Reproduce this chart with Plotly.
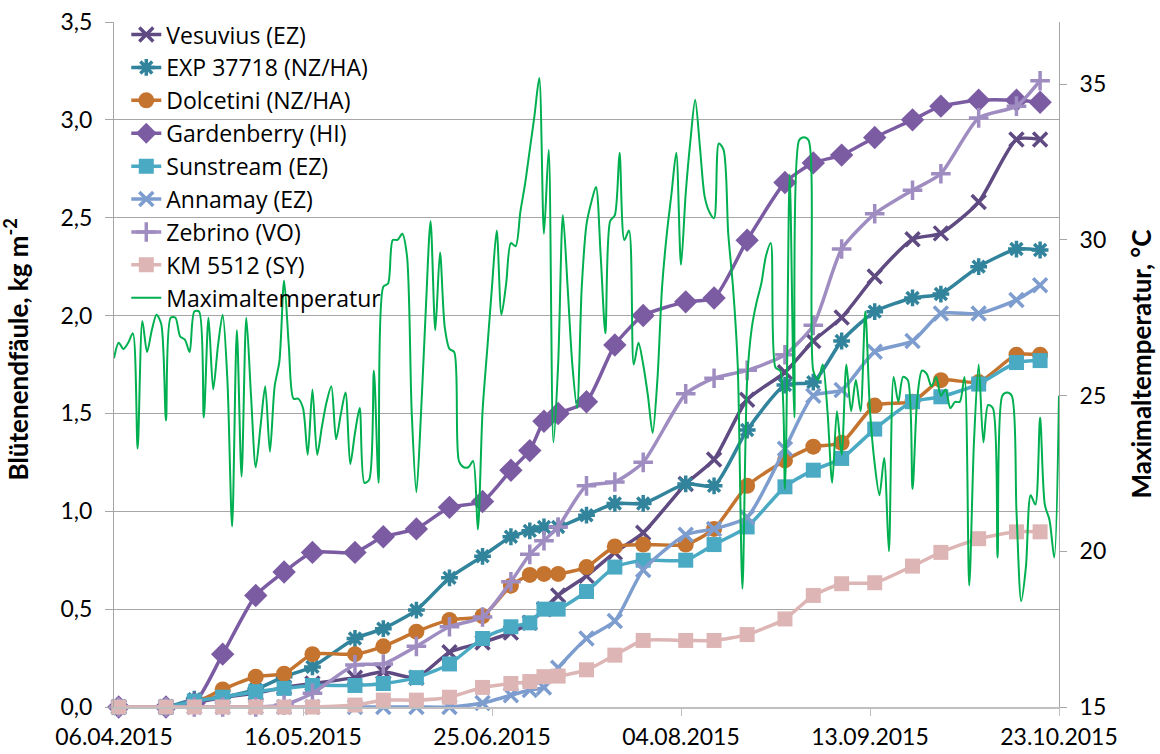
import pandas as pd
import plotly.graph_objects as go

# ---------------- data ----------------
harvest_dates = ["2015-04-07", "2015-04-17", "2015-04-23", "2015-04-29", "2015-05-06",
                 "2015-05-12", "2015-05-18", "2015-05-27", "2015-06-02", "2015-06-09",
                 "2015-06-16", "2015-06-23", "2015-06-29", "2015-07-03", "2015-07-06",
                 "2015-07-09", "2015-07-15", "2015-07-21", "2015-07-27", "2015-08-05",
                 "2015-08-11", "2015-08-18", "2015-08-26", "2015-09-01", "2015-09-07",
                 "2015-09-14", "2015-09-22", "2015-09-28", "2015-10-06", "2015-10-14",
                 "2015-10-19"]

vesuvius = [0, 0, 0.02, 0.05, 0.07, 0.10, 0.12, 0.15, 0.18, 0.15, 0.28, 0.33, 0.38, 0.43,
            0.50, 0.57, 0.67, 0.79, 0.89, 1.14, 1.265, 1.57, 1.71, 1.87, 1.99, 2.20, 2.39,
            2.42, 2.58, 2.90, 2.90]
exp37718 = [0, 0, 0.04, 0.05, 0.09, 0.155, 0.205, 0.35, 0.40, 0.495, 0.66, 0.77, 0.87, 0.90,
            0.92, 0.92, 0.98, 1.04, 1.04, 1.14, 1.13, 1.415, 1.645, 1.66, 1.87, 2.02, 2.09,
            2.11, 2.25, 2.34, 2.335]
dolcetini = [0, 0, 0.02, 0.09, 0.155, 0.17, 0.27, 0.27, 0.31, 0.385, 0.445, 0.465, 0.62,
             0.675, 0.68, 0.68, 0.715, 0.82, 0.83, 0.83, 0.91, 1.13, 1.26, 1.33, 1.35, 1.54,
             1.56, 1.67, 1.66, 1.80, 1.80]
gardenberry = [0, 0, 0.02, 0.27, 0.57, 0.69, 0.79, 0.79, 0.87, 0.91, 1.02, 1.05, 1.21, 1.31,
               1.46, 1.50, 1.56, 1.85, 2.00, 2.07, 2.09, 2.385, 2.68, 2.78, 2.82, 2.91, 3.00,
               3.07, 3.10, 3.10, 3.09]
sunstream = [0, 0, 0.03, 0.05, 0.078, 0.095, 0.11, 0.11, 0.12, 0.15, 0.22, 0.35, 0.41, 0.43,
             0.50, 0.50, 0.59, 0.715, 0.75, 0.75, 0.83, 0.92, 1.125, 1.21, 1.27, 1.42, 1.56,
             1.585, 1.65, 1.76, 1.77]
annamay = [0, 0, 0, 0, 0, 0, 0, 0, 0, 0, 0, 0.02, 0.06, 0.087, 0.10, 0.20, 0.35, 0.44, 0.70,
           0.88, 0.91, 0.97, 1.32, 1.59, 1.62, 1.815, 1.87, 2.01, 2.01, 2.08, 2.155]
zebrino = [0, 0, 0, 0, 0, 0.01, 0.07, 0.215, 0.22, 0.31, 0.41, 0.46, 0.64, 0.78, 0.85, 0.92,
           1.13, 1.15, 1.25, 1.60, 1.68, 1.72, 1.80, 1.95, 2.34, 2.52, 2.64, 2.725, 3.01,
           3.07, 3.20]
km5512 = [0, 0, 0, 0, 0, 0, 0, 0.01, 0.035, 0.035, 0.05, 0.10, 0.12, 0.13, 0.155, 0.158,
          0.19, 0.265, 0.34, 0.34, 0.34, 0.37, 0.45, 0.57, 0.63, 0.635, 0.72, 0.79, 0.86,
          0.895, 0.895]

temp_start = "2015-04-06"
max_temp = [26.2, 26.7, 26.5, 26.7, 27.0, 23.3, 27.4, 26.4, 27.1, 27.6,
            27.3, 24.2, 27.5, 27.5, 26.9, 26.8, 26.4, 27.7, 27.7, 24.3,
            27.5, 25.2, 26.6, 27.6, 25.5, 20.8, 27.1, 22.4, 27.5, 25.0,
            22.7, 24.0, 25.3, 23.2, 25.3, 26.1, 28.7, 26.6, 24.9, 24.9,
            24.6, 23.1, 25.2, 23.1, 24.0, 24.8, 25.3, 23.6, 24.4, 25.1,
            22.8, 23.8, 24.6, 22.2, 22.3, 25.8, 22.2, 28.5, 28.6, 30.0,
            30.0, 30.2, 29.5, 24.5, 21.9, 24.5, 27.8, 30.6, 27.1, 29.6,
            27.2, 26.5, 26.4, 22.9, 22.7, 22.7, 22.9, 20.7, 24.5, 26.5,
            28.5, 30.3, 27.6, 28.6, 29.9, 29.8, 30.9, 31.8, 32.9, 34.0,
            35.2, 30.2, 32.9, 23.5, 26.0, 30.8, 28.5, 26.0, 24.6, 28.5,
            30.5, 31.2, 31.7, 29.5, 27.0, 30.6, 30.8, 32.8, 30.0, 30.3,
            26.0, 26.7, 26.0, 25.0, 23.8, 25.5, 28.5, 30.2, 31.5, 32.8,
            29.2, 31.5, 33.2, 34.5, 33.0, 31.4, 30.9, 30.7, 33.1, 32.9,
            30.2, 28.5, 26.0, 18.8, 25.5, 27.2, 28.0, 28.6, 29.5, 29.9,
            25.9, 25.8, 22.0, 32.1, 24.3, 33.2, 33.3, 33.2, 25.8, 25.5,
            26.0, 24.5, 22.2, 24.5, 23.1, 26.0, 24.5, 25.5, 24.5, 27.7,
            24.5, 22.8, 21.8, 23.0, 20.0, 25.6, 24.8, 25.6, 25.5, 22.0,
            24.9, 25.8, 25.7, 25.3, 25.6, 25.0, 25.2, 24.6, 24.8, 24.8,
            25.6, 18.9, 23.5, 26.0, 23.5, 24.7, 24.6, 19.8, 25.0, 25.1,
            25.0, 21.3, 18.4, 19.5, 21.8, 21.5, 24.3, 21.5, 21.0, 19.8,
            25.0]
temp_dates = pd.date_range(temp_start, periods=len(max_temp), freq="D")

x_tick_dates = ["2015-04-06", "2015-05-16", "2015-06-25", "2015-08-04", "2015-09-13",
                "2015-10-23"]
x_tick_text = ["06.04.2015", "16.05.2015", "25.06.2015", "04.08.2015", "13.09.2015",
               "23.10.2015"]

series = [
    ("Vesuvius (EZ)", vesuvius, "#5F4A82", "x-thin", 14),
    ("EXP 37718 (NZ/HA)", exp37718, "#31849B", "asterisk", 14),
    ("Dolcetini (NZ/HA)", dolcetini, "#C5742F", "circle", 16),
    ("Gardenberry (HI)", gardenberry, "#7B5CA3", "diamond", 18),
    ("Sunstream (EZ)", sunstream, "#4AAAC4", "square", 15),
    ("Annamay (EZ)", annamay, "#7E9DCF", "x-thin", 14),
    ("Zebrino (VO)", zebrino, "#9F8DC2", "cross-thin", 14),
    ("KM 5512 (SY)", km5512, "#DEB5B5", "square", 15),
]

FONT = "Lato, 'Open Sans', sans-serif"
LEG_FONT = "'Open Sans', Lato, sans-serif"
GRID = "#A6A6A6"

fig = go.Figure()
for i, (name, vals, col, sym, size) in enumerate(series):
    thin = sym in ("x-thin", "asterisk", "cross-thin")
    fig.add_trace(go.Scatter(
        x=harvest_dates, y=vals, name=name, mode="lines+markers",
        legendgroup="g%d" % i,
        line=dict(color=col, width=3.5, shape="spline", smoothing=0.6),
        marker=dict(symbol=sym, size=size, color=col,
                    line=dict(color=col, width=3.5 if thin else 0)),
        cliponaxis=False,
    ))

fig.add_trace(go.Scatter(
    x=temp_dates, y=max_temp, name="Maximaltemperatur", mode="lines",
    legendgroup="g8", yaxis="y2",
    line=dict(color="#00B050", width=2, shape="spline", smoothing=0.8),
))

fig.update_layout(
    width=1160, height=754,
    autosize=False,
    margin=dict(l=114, r=101, t=22, b=47, autoexpand=False),
    paper_bgcolor="white", plot_bgcolor="white",
    separators=", ",
    font=dict(family=FONT, size=23, color="black"),
    showlegend=True,
    legend=dict(x=0.013, y=1.013, xanchor="left", yanchor="top",
                bgcolor="rgba(0,0,0,0)", font=dict(family=LEG_FONT, size=23),
                itemwidth=30, traceorder="grouped", tracegroupgap=0),
    xaxis=dict(type="date", range=["2015-04-06", "2015-10-23"],
               tickvals=x_tick_dates, ticktext=x_tick_text, automargin=False,
               showgrid=False, showline=True, linecolor="#BFBFBF", linewidth=1.5,
               ticks="outside", ticklen=7, tickcolor="#BFBFBF", ticklabelstandoff=2,
               tickfont=dict(family=FONT, size=23), zeroline=False),
    yaxis=dict(range=[0, 3.5], dtick=0.5, tick0=0, tickformat=".1f", automargin=False,
               showgrid=True, gridcolor=GRID, gridwidth=1,
               showline=True, linecolor=GRID, linewidth=1,
               ticks="outside", ticklen=8, tickcolor=GRID, ticklabelstandoff=8,
               tickfont=dict(family=FONT, size=23), zeroline=False),
    yaxis2=dict(range=[15, 37], dtick=5, tick0=15, overlaying="y", side="right",
                automargin=False,
                showgrid=False, showline=True, linecolor=GRID, linewidth=1,
                ticks="outside", ticklen=7, tickcolor=GRID, ticklabelstandoff=8,
                tickfont=dict(family=FONT, size=23), zeroline=False),
    annotations=[
        dict(text="<b>Blütenendfäule, kg m<sup>-2</sup></b>", xref="paper", yref="paper",
             x=0, y=0.5, xanchor="center", yanchor="middle", xshift=-97, yshift=15,
             textangle=-90, showarrow=False, font=dict(family=FONT, size=26)),
        dict(text="<b>Maximaltemperatur, °C</b>", xref="paper", yref="paper",
             x=1, y=0.5, xanchor="center", yanchor="middle", xshift=81,
             textangle=-90, showarrow=False, font=dict(family=FONT, size=26)),
    ],
)

fig.write_html("out.html", config={"displayModeBar": False},
               post_script="document.body.style.margin='0';document.body.style.padding='0';")
